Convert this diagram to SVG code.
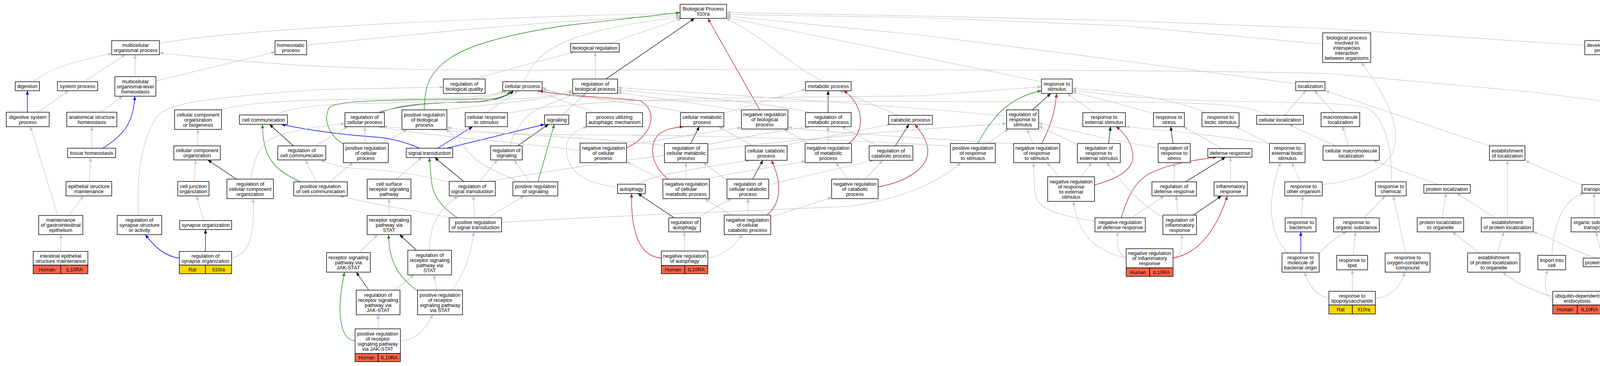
<svg xmlns="http://www.w3.org/2000/svg" width="4843" height="936" viewBox="0 0 4843 936">
<defs>
<style>
.c path{fill:none;stroke-width:1.2}
.c .g{stroke:#c0c0c0;marker-end:url(#mg)}
.c .k{stroke:#000;marker-end:url(#mk)}
.c .gr{stroke:#228b22;stroke-width:1.4;marker-end:url(#mgr)}
.c .r{stroke:#b22222;stroke-width:1.4;marker-end:url(#mr)}
.c .b{stroke:#0000ff;stroke-width:1.4;marker-end:url(#mb)}
.n rect{fill:#fff;stroke:#000;stroke-width:1.4}
.n rect.hu{fill:#ff6347}
.n rect.rt{fill:#ffd700}
.n rect.zf{fill:#6495ed}
.n text{font-family:"Liberation Sans",Arial,Helvetica,sans-serif;font-size:13px;text-anchor:middle;fill:#000}
</style>
<marker id="mg" viewBox="0 0 10 8" refX="10" refY="4" markerWidth="10" markerHeight="8" markerUnits="userSpaceOnUse" orient="auto"><path d="M0,0L10,4L0,8z" fill="#c0c0c0"/></marker>
<marker id="mk" viewBox="0 0 10 8" refX="10" refY="4" markerWidth="10" markerHeight="8" markerUnits="userSpaceOnUse" orient="auto"><path d="M0,0L10,4L0,8z" fill="#000"/></marker>
<marker id="mgr" viewBox="0 0 10 8" refX="10" refY="4" markerWidth="10" markerHeight="8" markerUnits="userSpaceOnUse" orient="auto"><path d="M0,0L10,4L0,8z" fill="#228b22"/></marker>
<marker id="mr" viewBox="0 0 10 8" refX="10" refY="4" markerWidth="10" markerHeight="8" markerUnits="userSpaceOnUse" orient="auto"><path d="M0,0L10,4L0,8z" fill="#b22222"/></marker>
<marker id="mb" viewBox="0 0 10 8" refX="10" refY="4" markerWidth="10" markerHeight="8" markerUnits="userSpaceOnUse" orient="auto"><path d="M0,0L10,4L0,8z" fill="#0000ff"/></marker>
</defs>
<rect width="4843" height="936" fill="#fff"/>
<g id="connectors" class="c">
<path class="g" d="M408,111 C600,75 1200,45 1741,34"/>
<path class="g" d="M785,115 C1000,95 1400,50 1741,40"/>
<path class="g" d="M87,209 C110,185 170,160 286,137"/>
<path class="g" d="M216,209 L320,140"/>
<path class="g" d="M346,196 L346,140"/>
<path class="g" d="M399,207 L704,133"/>
<path class="b" d="M70,287 L70,232"/>
<path class="g" d="M98,287 L176,232"/>
<path class="g" d="M258,287 L314,246"/>
<path class="g" d="M235,379 L235,324"/>
<path class="b" d="M263,379 C310,350 342,320 345,246"/>
<path class="g" d="M229,464 L232,403"/>
<path class="g" d="M176,551 L214,501"/>
<path class="g" d="M148,551 L78,324"/>
<path class="g" d="M156,643 L156,600"/>
<path class="g" d="M4379,294 L3920,235 L3400,188 C3000,178 2000,176 1300,180 C900,178 700,168 408,135"/>
<path class="g" d="M4057,116 L3400,73 L2880,53 L2360,41 L1860,32"/>
<path class="g" d="M4505,206 L4152,135"/>
<path class="g" d="M3386,113 L2880,66 L2360,45 L1860,37"/>
<path class="g" d="M3317,214 L2880,156 L2360,90 L1860,41"/>
<path class="g" d="M2666,209 L2360,146 L1860,45"/>
<path class="g" d="M2107,209 C2000,150 1950,90 1858,47"/>
<path class="g" d="M1341,209 C1370,140 1420,80 1741,44"/>
<path class="g" d="M1560,111 L1745,47"/>
<path class="g" d="M1524,202 L1524,133"/>
<path class="k" d="M1551,202 L1778,47"/>
<path class="g" d="M1210,202 L1470,133"/>
<path class="r" d="M1945,281 L1812,47"/>
<path class="g" d="M1898,284 C1800,265 1650,248 1581,236"/>
<path class="gr" d="M1086,281 C1086,220 1100,185 1150,150 C1200,115 1300,88 1450,65 L1741,32"/>
<path class="g" d="M1140,281 C1250,266 1400,256 1466,236"/>
<path class="k" d="M970,288 C1020,270 1080,262 1213,261 C1270,258 1300,245 1315,232"/>
<path class="g" d="M960,288 C1040,266 1200,258 1300,254 C1400,250 1445,240 1466,230"/>
<path class="g" d="M1245,288 L1327,232"/>
<path class="g" d="M1299,290 C1400,268 1600,255 1900,250 L2360,245 L2666,222"/>
<path class="g" d="M1438,295 L1500,239"/>
<path class="g" d="M1523,288 L1372,232"/>
<path class="b" d="M1144,379 L1394,318"/>
<path class="b" d="M1120,379 L1210,324"/>
<path class="b" d="M1074,379 C1030,360 990,352 955,350 C880,345 800,335 720,318"/>
<path class="k" d="M1325,373 L1404,318"/>
<path class="g" d="M1306,373 C1312,340 1340,300 1370,283 C1410,262 1450,250 1475,239"/>
<path class="gr" d="M1377,465 L1419,318"/>
<path class="g" d="M1355,465 L1316,409"/>
<path class="g" d="M1332,465 C1280,445 1230,420 1215,405 C1190,380 1170,350 1140,331"/>
<path class="k" d="M1187,464 L1113,403"/>
<path class="g" d="M1228,464 L1273,409"/>
<path class="g" d="M1151,466 C1050,440 950,432 900,430 C860,425 840,418 821,409"/>
<path class="g" d="M1250,464 C1500,420 2000,350 2577,316"/>
<path class="gr" d="M1171,557 C1130,530 1108,500 1105,466 L1099,403"/>
<path class="g" d="M1215,557 L1212,501"/>
<path class="g" d="M1248,557 L1342,501"/>
<path class="g" d="M1150,557 C1070,538 1000,533 870,501"/>
<path class="g" d="M1284,569 C1500,555 2000,535 2173,528 C2300,510 2400,470 2460,416"/>
<path class="g" d="M1015,458 L1080,403"/>
<path class="g" d="M996,551 L996,508"/>
<path class="k" d="M1066,640 L1023,600"/>
<path class="g" d="M1100,640 C1100,590 1110,545 1172,502"/>
<path class="g" d="M919,646 L967,600"/>
<path class="k" d="M944,742 L912,696"/>
<path class="g" d="M1009,742 L1060,703"/>
<path class="g" d="M1118,742 L1111,703"/>
<path class="gr" d="M1069,744 C1030,715 995,680 995,600"/>
<path class="g" d="M1157,742 C1180,710 1200,680 1213,593"/>
<path class="g" d="M968,841 L968,805"/>
<path class="g" d="M1025,872 C1070,868 1090,840 1108,805"/>
<path class="gr" d="M909,872 C870,868 860,800 882,696"/>
<path class="g" d="M700,294 C740,278 800,268 900,265 C1100,262 1250,258 1298,232"/>
<path class="k" d="M751,373 L690,318"/>
<path class="g" d="M808,373 L890,324"/>
<path class="gr" d="M770,465 C700,435 672,400 672,318"/>
<path class="g" d="M810,465 L782,409"/>
<path class="g" d="M844,465 L903,416"/>
<path class="g" d="M567,281 C620,265 700,255 1000,253 C1200,251 1270,245 1291,232"/>
<path class="g" d="M506,373 L507,331"/>
<path class="g" d="M497,464 L501,409"/>
<path class="g" d="M522,564 L503,501"/>
<path class="k" d="M526,643 L526,587"/>
<path class="b" d="M459,660 C420,655 395,630 372,600"/>
<path class="g" d="M593,660 C640,650 652,600 648,508"/>
<path class="g" d="M354,551 C350,450 360,366 400,300 C430,265 500,253 810,229 L1135,223"/>
<path class="k" d="M605,458 L532,409"/>
<path class="g" d="M643,458 C648,410 665,370 700,352 C740,335 800,325 883,316"/>
<path class="g" d="M934,366 L934,324"/>
<path class="g" d="M981,366 L1043,331"/>
<path class="gr" d="M878,368 C840,345 825,300 845,273 C870,258 960,255 1255,253 C1285,250 1300,242 1306,232"/>
<path class="r" d="M1604,379 C1680,340 1680,280 1640,258 C1600,250 1450,248 1380,232"/>
<path class="g" d="M1485,385 C1300,360 1100,350 968,324"/>
<path class="g" d="M1604,372 C1700,355 1800,340 1898,326"/>
<path class="g" d="M1853,290 L2062,228"/>
<path class="g" d="M1757,288 C1650,265 1500,255 1388,228"/>
<path class="k" d="M1768,367 L1790,324"/>
<path class="g" d="M1812,370 C1900,350 2000,335 2073,324"/>
<path class="g" d="M1701,372 C1550,352 1200,340 980,324"/>
<path class="g" d="M1756,458 L1756,416"/>
<path class="r" d="M1710,458 C1665,420 1660,370 1687,343 C1705,330 1725,326 1750,324"/>
<path class="g" d="M1697,460 L1604,414"/>
<path class="g" d="M1808,458 C1880,440 2000,425 2061,412"/>
<path class="k" d="M1726,557 L1633,495"/>
<path class="g" d="M1787,557 C1820,535 1850,520 1873,508"/>
<path class="g" d="M1752,642 L1752,593"/>
<path class="r" d="M1693,660 C1630,655 1615,580 1617,495"/>
<path class="g" d="M1812,660 C1850,655 1880,630 1900,600"/>
<path class="g" d="M1581,479 C1500,470 1450,440 1450,380 C1450,345 1480,330 1503,324"/>
<path class="g" d="M1630,471 C1680,445 1800,428 1920,410"/>
<path class="g" d="M2000,373 L2280,318"/>
<path class="g" d="M1927,373 L1840,324"/>
<path class="k" d="M1927,458 L1953,410"/>
<path class="g" d="M1861,461 C1840,445 1820,430 1800,416"/>
<path class="g" d="M1968,472 L2237,410"/>
<path class="g" d="M1915,550 L1915,508"/>
<path class="r" d="M1963,550 C2000,520 2003,470 1975,410"/>
<path class="g" d="M1973,555 L2129,505"/>
<path class="g" d="M1873,550 C1850,535 1820,520 1805,508"/>
<path class="k" d="M2120,288 L2120,232"/>
<path class="g" d="M2080,288 C1950,262 1800,250 1581,230"/>
<path class="g" d="M2120,367 L2120,324"/>
<path class="r" d="M2172,367 C2215,340 2215,270 2160,232"/>
<path class="g" d="M2070,367 L2007,330"/>
<path class="k" d="M2292,373 L2327,318"/>
<path class="g" d="M2245,373 L2155,324"/>
<path class="g" d="M2215,458 L2260,410"/>
<path class="g" d="M2170,458 L2140,416"/>
<path class="r" d="M2248,478 C2320,465 2380,430 2375,380 C2370,350 2355,335 2342,318"/>
<path class="g" d="M2300,295 L2150,232"/>
<path class="k" d="M2643,281 L2690,239"/>
<path class="g" d="M2577,297 C2300,270 1900,245 1581,224"/>
<path class="gr" d="M2503,367 C2540,300 2580,250 2666,232"/>
<path class="g" d="M2528,367 L2582,330"/>
<path class="g" d="M2433,374 C2100,352 1700,345 1500,345 C1300,345 1200,335 1144,326"/>
<path class="r" d="M2667,367 C2690,320 2700,290 2705,239"/>
<path class="g" d="M2644,367 L2629,330"/>
<path class="g" d="M2595,368 C2400,355 2200,345 2017,326"/>
<path class="k" d="M2838,367 L2843,324"/>
<path class="g" d="M2758,370 L2659,322"/>
<path class="g" d="M2800,288 L2732,239"/>
<path class="g" d="M2712,452 L2680,416"/>
<path class="g" d="M2767,452 L2795,416"/>
<path class="r" d="M2802,473 C2850,460 2900,440 2900,400 C2900,370 2880,340 2857,324"/>
<path class="g" d="M2897,557 L2980,501"/>
<path class="r" d="M2870,557 C2885,510 2900,470 2940,445 C2990,420 3050,410 3115,402"/>
<path class="g" d="M2803,566 C2680,545 2650,530 2648,480 L2646,416"/>
<path class="g" d="M3003,660 C3025,655 3028,630 3025,600"/>
<path class="r" d="M3003,660 C3060,650 3110,600 3142,501"/>
<path class="g" d="M2883,660 C2800,640 2760,600 2748,515"/>
<path class="g" d="M2883,660 C2860,650 2858,620 2862,593"/>
<path class="g" d="M3015,550 L3011,501"/>
<path class="k" d="M3055,550 L3127,501"/>
<path class="g" d="M2977,555 C2930,530 2880,480 2833,416"/>
<path class="g" d="M3006,465 L3006,416"/>
<path class="k" d="M3035,465 L3137,402"/>
<path class="k" d="M3003,367 L2997,324"/>
<path class="g" d="M2965,378 C2850,360 2750,335 2659,315"/>
<path class="g" d="M3128,380 L3030,324"/>
<path class="g" d="M3150,465 L3150,402"/>
<path class="g" d="M3250,367 C3100,345 2950,330 2881,324"/>
<path class="g" d="M3250,367 L3163,324"/>
<path class="g" d="M2953,291 C2880,268 2800,250 2745,234"/>
<path class="g" d="M3087,288 C3000,250 2850,232 2745,226"/>
<path class="g" d="M3247,295 C3200,268 3100,262 2880,261 L1700,258 C1500,256 1420,245 1388,222"/>
<path class="g" d="M3288,295 L3343,232"/>
<path class="g" d="M3415,288 L3365,232"/>
<path class="g" d="M3453,373 L3437,324"/>
<path class="g" d="M3420,373 C3380,355 3330,335 3300,318"/>
<path class="g" d="M3813,373 L3393,232"/>
<path class="g" d="M3385,472 C3500,460 3570,420 3573,358 C3575,290 3530,220 3485,160"/>
<path class="g" d="M3329,465 L3307,416"/>
<path class="g" d="M3332,557 L3335,501"/>
<path class="b" d="M3330,647 L3330,593"/>
<path class="g" d="M3377,647 C3400,625 3420,605 3447,593"/>
<path class="g" d="M3297,647 C3250,600 3240,520 3278,416"/>
<path class="g" d="M3402,763 C3370,755 3350,730 3340,696"/>
<path class="g" d="M3462,745 L3462,690"/>
<path class="g" d="M3521,763 C3560,760 3590,730 3595,696"/>
<path class="g" d="M3464,653 L3470,593"/>
<path class="g" d="M3598,647 L3567,501"/>
<path class="g" d="M3492,557 L3546,501"/>
<path class="g" d="M3562,465 C3565,380 3545,300 3500,276 C3450,262 3300,262 3100,258 C2900,252 2800,238 2745,230"/>
<path class="g" d="M3682,472 L3515,410"/>
<path class="g" d="M3692,557 L3702,494"/>
<path class="g" d="M3827,557 L3729,494"/>
<path class="g" d="M3859,557 L3859,410"/>
<path class="g" d="M3788,647 L3718,593"/>
<path class="g" d="M3833,647 L3850,593"/>
<path class="g" d="M3975,758 C3940,750 3880,725 3847,696"/>
<path class="g" d="M3975,766 C3955,762 3952,720 3962,690"/>
<path class="g" d="M4100,766 C4122,762 4125,720 4112,682"/>
<path class="g" d="M4100,763 C4180,760 4250,740 4303,682"/>
<path class="g" d="M4102,660 L4086,593"/>
<path class="g" d="M4122,660 L4217,593"/>
<path class="g" d="M4087,660 C4020,640 3980,610 3925,593"/>
<path class="g" d="M4333,660 L4388,593"/>
<path class="g" d="M3973,653 C3975,580 4000,510 4055,494"/>
<path class="g" d="M4081,557 L4081,494"/>
<path class="g" d="M4211,557 L4104,494"/>
<path class="g" d="M4362,557 L4112,492"/>
<path class="g" d="M4050,474 L3905,411"/>
<path class="g" d="M4477,288 L4544,239"/>
<path class="b" d="M4507,380 L4463,324"/>
<path class="g" d="M4523,380 C4550,350 4565,300 4566,239"/>
<path class="g" d="M4516,465 L4516,402"/>
<path class="g" d="M4669,472 L4578,239"/>
<path class="g" d="M4558,557 L4526,501"/>
<path class="g" d="M4781,557 C4770,450 4700,330 4596,239"/>
<path class="b" d="M4634,653 L4584,593"/>
<path class="g" d="M4651,653 L4671,494"/>
<path class="g" d="M4782,653 L4782,593"/>
<path class="b" d="M4640,763 C4620,762 4618,720 4637,690"/>
<path class="g" d="M4791,763 C4815,760 4810,720 4795,690"/>
</g>
<g id="n1" class="n"><rect x="286" y="104" width="122" height="36"/><text><tspan x="347" y="120">multicellular</tspan><tspan x="347" y="133">organismal process</tspan></text></g>
<g id="n2" class="n"><rect x="704" y="104" width="81" height="36"/><text><tspan x="744.5" y="120">homeostatic</tspan><tspan x="744.5" y="133">process</tspan></text></g>
<g id="n3" class="n"><rect x="39" y="209" width="62" height="23"/><text><tspan x="70" y="225">digestion</tspan></text></g>
<g id="n4" class="n"><rect x="147" y="209" width="103" height="23"/><text><tspan x="198.5" y="225">system process</tspan></text></g>
<g id="n5" class="n"><rect x="294" y="196" width="105" height="50"/><text><tspan x="346.5" y="212.5">multicellular</tspan><tspan x="346.5" y="225.5">organismal-level</tspan><tspan x="346.5" y="238.5">homeostasis</tspan></text></g>
<g id="n6" class="n"><rect x="16" y="287" width="110" height="37"/><text><tspan x="71" y="303.5">digestive system</tspan><tspan x="71" y="316.5">process</tspan></text></g>
<g id="n7" class="n"><rect x="171" y="287" width="128" height="37"/><text><tspan x="235" y="303.5">anatomical structure</tspan><tspan x="235" y="316.5">homeostasis</tspan></text></g>
<g id="n8" class="n"><rect x="447" y="281" width="120" height="50"/><text><tspan x="507" y="297.5">cellular component</tspan><tspan x="507" y="310.5">organization</tspan><tspan x="507" y="323.5">or biogenesis</tspan></text></g>
<g id="n9" class="n"><rect x="613" y="294" width="123" height="24"/><text><tspan x="674.5" y="310.5">cell communication</tspan></text></g>
<g id="n10" class="n"><rect x="173" y="379" width="123" height="24"/><text><tspan x="234.5" y="395.5">tissue homeostasis</tspan></text></g>
<g id="n11" class="n"><rect x="445" y="373" width="119" height="36"/><text><tspan x="504.5" y="389">cellular component</tspan><tspan x="504.5" y="402">organization</tspan></text></g>
<g id="n12" class="n"><rect x="711" y="373" width="123" height="36"/><text><tspan x="772.5" y="389">regulation of</tspan><tspan x="772.5" y="402">cell communication</tspan></text></g>
<g id="n13" class="n"><rect x="169" y="464" width="117" height="37"/><text><tspan x="227.5" y="480.5">epithelial structure</tspan><tspan x="227.5" y="493.5">maintenance</tspan></text></g>
<g id="n14" class="n"><rect x="455" y="464" width="80" height="37"/><text><tspan x="495" y="480.5">cell junction</tspan><tspan x="495" y="493.5">organization</tspan></text></g>
<g id="n15" class="n"><rect x="581" y="458" width="119" height="50"/><text><tspan x="640.5" y="474.5">regulation of</tspan><tspan x="640.5" y="487.5">cellular component</tspan><tspan x="640.5" y="500.5">organization</tspan></text></g>
<g id="n16" class="n"><rect x="752" y="465" width="137" height="36"/><text><tspan x="820.5" y="481">positive regulation</tspan><tspan x="820.5" y="494">of cell communication</tspan></text></g>
<g id="n17" class="n"><rect x="99" y="551" width="113" height="49"/><text><tspan x="155.5" y="567">maintenance</tspan><tspan x="155.5" y="580">of gastrointestinal</tspan><tspan x="155.5" y="593">epithelium</tspan></text></g>
<g id="n18" class="n"><rect x="300" y="551" width="114" height="49"/><text><tspan x="357" y="567">regulation of</tspan><tspan x="357" y="580">synapse structure</tspan><tspan x="357" y="593">or activity</tspan></text></g>
<g id="n19" class="n"><rect x="460" y="564" width="133" height="23"/><text><tspan x="526.5" y="580">synapse organization</tspan></text></g>
<g id="n20" class="n"><rect x="85" y="643" width="140" height="35"/><rect class="hu" x="85" y="678" width="70.5" height="22"/><rect class="hu" x="155.5" y="678" width="69.5" height="22"/><text><tspan x="155" y="658.5">intestinal epithelial</tspan><tspan x="155" y="671.5">structure maintenance</tspan><tspan x="120.3" y="693.5">Human</tspan><tspan x="190.3" y="693.5">IL10RA</tspan></text></g>
<g id="n21" class="n"><rect x="459" y="643" width="134" height="35"/><rect class="rt" x="459" y="678" width="67" height="22"/><rect class="rt" x="526" y="678" width="67" height="22"/><text><tspan x="526" y="658.5">regulation of</tspan><tspan x="526" y="671.5">synapse organization</tspan><tspan x="492.5" y="693.5">Rat</tspan><tspan x="559.5" y="693.5">Il10ra</tspan></text></g>
<g id="n22" class="n"><rect x="1135" y="202" width="107" height="37"/><text><tspan x="1188.5" y="218.5">regulation of</tspan><tspan x="1188.5" y="231.5">biological quality</tspan></text></g>
<g id="n23" class="n"><rect x="1287" y="209" width="101" height="23"/><text><tspan x="1337.5" y="225">cellular process</tspan></text></g>
<g id="n24" class="n"><rect x="1461" y="111" width="124" height="22"/><text><tspan x="1523" y="126.5">biological regulation</tspan></text></g>
<g id="n25" class="n"><rect x="1466" y="202" width="115" height="37"/><text><tspan x="1523.5" y="218.5">regulation of</tspan><tspan x="1523.5" y="231.5">biological process</tspan></text></g>
<g id="n26" class="n"><rect x="883" y="288" width="101" height="36"/><text><tspan x="933.5" y="304">regulation of</tspan><tspan x="933.5" y="317">cellular process</tspan></text></g>
<g id="n27" class="n"><rect x="1029" y="281" width="115" height="50"/><text><tspan x="1086.5" y="297.5">positive regulation</tspan><tspan x="1086.5" y="310.5">of biological</tspan><tspan x="1086.5" y="323.5">process</tspan></text></g>
<g id="n28" class="n"><rect x="1191" y="288" width="108" height="36"/><text><tspan x="1245" y="304">cellular response</tspan><tspan x="1245" y="317">to stimulus</tspan></text></g>
<g id="n29" class="n"><rect x="1394" y="294" width="62" height="24"/><text><tspan x="1425" y="310.5">signaling</tspan></text></g>
<g id="n30" class="n"><rect x="1501" y="288" width="144" height="36"/><text><tspan x="1573" y="304">process utilizing</tspan><tspan x="1573" y="317">autophagic mechanism</tspan></text></g>
<g id="n31" class="n"><rect x="879" y="366" width="115" height="50"/><text><tspan x="936.5" y="382.5">positive regulation</tspan><tspan x="936.5" y="395.5">of cellular</tspan><tspan x="936.5" y="408.5">process</tspan></text></g>
<g id="n32" class="n"><rect x="1040" y="379" width="119" height="24"/><text><tspan x="1099.5" y="395.5">signal transduction</tspan></text></g>
<g id="n33" class="n"><rect x="1256" y="373" width="81" height="36"/><text><tspan x="1296.5" y="389">regulation of</tspan><tspan x="1296.5" y="402">signaling</tspan></text></g>
<g id="n34" class="n"><rect x="1485" y="366" width="119" height="50"/><text><tspan x="1544.5" y="382.5">negative regulation</tspan><tspan x="1544.5" y="395.5">of cellular</tspan><tspan x="1544.5" y="408.5">process</tspan></text></g>
<g id="n35" class="n"><rect x="1313" y="465" width="115" height="36"/><text><tspan x="1370.5" y="481">positive regulation</tspan><tspan x="1370.5" y="494">of signaling</tspan></text></g>
<g id="n36" class="n"><rect x="940" y="458" width="112" height="50"/><text><tspan x="996" y="474.5">cell surface</tspan><tspan x="996" y="487.5">receptor signaling</tspan><tspan x="996" y="500.5">pathway</tspan></text></g>
<g id="n37" class="n"><rect x="1150" y="464" width="118" height="37"/><text><tspan x="1209" y="480.5">regulation of</tspan><tspan x="1209" y="493.5">signal transduction</tspan></text></g>
<g id="n38" class="n"><rect x="1581" y="471" width="71" height="24"/><text><tspan x="1616.5" y="487.5">autophagy</tspan></text></g>
<g id="n39" class="n"><rect x="940" y="551" width="112" height="49"/><text><tspan x="996" y="567">receptor signaling</tspan><tspan x="996" y="580">pathway via</tspan><tspan x="996" y="593">STAT</tspan></text></g>
<g id="n40" class="n"><rect x="1150" y="557" width="134" height="36"/><text><tspan x="1217" y="573">positive regulation</tspan><tspan x="1217" y="586">of signal transduction</tspan></text></g>
<g id="n41" class="n"><rect x="836" y="646" width="112" height="50"/><text><tspan x="892" y="662.5">receptor signaling</tspan><tspan x="892" y="675.5">pathway via</tspan><tspan x="892" y="688.5">JAK-STAT</tspan></text></g>
<g id="n42" class="n"><rect x="1044" y="640" width="112" height="63"/><text><tspan x="1100" y="656.5">regulation of</tspan><tspan x="1100" y="669.5">receptor signaling</tspan><tspan x="1100" y="682.5">pathway via</tspan><tspan x="1100" y="695.5">STAT</tspan></text></g>
<g id="n43" class="n"><rect x="912" y="742" width="112" height="63"/><text><tspan x="968" y="758.5">regulation of</tspan><tspan x="968" y="771.5">receptor signaling</tspan><tspan x="968" y="784.5">pathway via</tspan><tspan x="968" y="797.5">JAK-STAT</tspan></text></g>
<g id="n44" class="n"><rect x="1069" y="742" width="115" height="63"/><text><tspan x="1126.5" y="758.5">positive regulation</tspan><tspan x="1126.5" y="771.5">of receptor</tspan><tspan x="1126.5" y="784.5">signaling pathway</tspan><tspan x="1126.5" y="797.5">via STAT</tspan></text></g>
<g id="n45" class="n"><rect x="909" y="841" width="116" height="63"/><rect class="hu" x="909" y="904" width="59" height="21"/><rect class="hu" x="968" y="904" width="57" height="21"/><text><tspan x="967" y="857.5">positive regulation</tspan><tspan x="967" y="870.5">of receptor</tspan><tspan x="967" y="883.5">signaling pathway</tspan><tspan x="967" y="896.5">via JAK-STAT</tspan><tspan x="938.5" y="919">Human</tspan><tspan x="996.5" y="919">IL10RA</tspan></text></g>
<g id="n46" class="n"><rect x="1741" y="11" width="119" height="36"/><text><tspan x="1800.5" y="27">Biological Process</tspan><tspan x="1800.5" y="40">Il10ra</tspan></text></g>
<g id="n47" class="n"><rect x="1742" y="288" width="111" height="36"/><text><tspan x="1797.5" y="304">cellular metabolic</tspan><tspan x="1797.5" y="317">process</tspan></text></g>
<g id="n48" class="n"><rect x="1701" y="367" width="111" height="49"/><text><tspan x="1756.5" y="383">regulation of</tspan><tspan x="1756.5" y="396">cellular metabolic</tspan><tspan x="1756.5" y="409">process</tspan></text></g>
<g id="n49" class="n"><rect x="1697" y="458" width="119" height="50"/><text><tspan x="1756.5" y="474.5">negative regulation</tspan><tspan x="1756.5" y="487.5">of cellular</tspan><tspan x="1756.5" y="500.5">metabolic process</tspan></text></g>
<g id="n50" class="n"><rect x="1712" y="557" width="81" height="36"/><text><tspan x="1752.5" y="573">regulation of</tspan><tspan x="1752.5" y="586">autophagy</tspan></text></g>
<g id="n51" class="n"><rect x="1693" y="642" width="119" height="37"/><rect class="hu" x="1693" y="679" width="60" height="21"/><rect class="hu" x="1753" y="679" width="59" height="21"/><text><tspan x="1752.5" y="658.5">negative regulation</tspan><tspan x="1752.5" y="671.5">of autophagy</tspan><tspan x="1723" y="694">Human</tspan><tspan x="1782.5" y="694">IL10RA</tspan></text></g>
<g id="n52" class="n"><rect x="2062" y="209" width="117" height="23"/><text><tspan x="2120.5" y="225">metabolic process</tspan></text></g>
<g id="n53" class="n"><rect x="1898" y="281" width="119" height="49"/><text><tspan x="1957.5" y="297">negative regulation</tspan><tspan x="1957.5" y="310">of biological</tspan><tspan x="1957.5" y="323">process</tspan></text></g>
<g id="n54" class="n"><rect x="2062" y="288" width="117" height="36"/><text><tspan x="2120.5" y="304">regulation of</tspan><tspan x="2120.5" y="317">metabolic process</tspan></text></g>
<g id="n55" class="n"><rect x="2275" y="295" width="112" height="23"/><text><tspan x="2331" y="311">catabolic process</tspan></text></g>
<g id="n56" class="n"><rect x="1908" y="373" width="107" height="37"/><text><tspan x="1961.5" y="389.5">cellular catabolic</tspan><tspan x="1961.5" y="402.5">process</tspan></text></g>
<g id="n57" class="n"><rect x="2061" y="367" width="119" height="49"/><text><tspan x="2120.5" y="383">negative regulation</tspan><tspan x="2120.5" y="396">of metabolic</tspan><tspan x="2120.5" y="409">process</tspan></text></g>
<g id="n58" class="n"><rect x="2225" y="373" width="112" height="37"/><text><tspan x="2281" y="389.5">regulation of</tspan><tspan x="2281" y="402.5">catabolic process</tspan></text></g>
<g id="n59" class="n"><rect x="1861" y="458" width="107" height="50"/><text><tspan x="1914.5" y="474.5">regulation of</tspan><tspan x="1914.5" y="487.5">cellular catabolic</tspan><tspan x="1914.5" y="500.5">process</tspan></text></g>
<g id="n60" class="n"><rect x="2129" y="458" width="119" height="50"/><text><tspan x="2188.5" y="474.5">negative regulation</tspan><tspan x="2188.5" y="487.5">of catabolic</tspan><tspan x="2188.5" y="500.5">process</tspan></text></g>
<g id="n61" class="n"><rect x="1854" y="550" width="119" height="50"/><text><tspan x="1913.5" y="566.5">negative regulation</tspan><tspan x="1913.5" y="579.5">of cellular</tspan><tspan x="1913.5" y="592.5">catabolic process</tspan></text></g>
<g id="n62" class="n"><rect x="2666" y="202" width="79" height="37"/><text><tspan x="2705.5" y="218.5">response to</tspan><tspan x="2705.5" y="231.5">stimulus</tspan></text></g>
<g id="n63" class="n"><rect x="2577" y="281" width="82" height="49"/><text><tspan x="2618" y="297">regulation of</tspan><tspan x="2618" y="310">response to</tspan><tspan x="2618" y="323">stimulus</tspan></text></g>
<g id="n64" class="n"><rect x="2772" y="288" width="109" height="36"/><text><tspan x="2826.5" y="304">response to</tspan><tspan x="2826.5" y="317">external stimulus</tspan></text></g>
<g id="n65" class="n"><rect x="2433" y="367" width="115" height="49"/><text><tspan x="2490.5" y="383">positive regulation</tspan><tspan x="2490.5" y="396">of response</tspan><tspan x="2490.5" y="409">to stimulus</tspan></text></g>
<g id="n66" class="n"><rect x="2595" y="367" width="118" height="49"/><text><tspan x="2654" y="383">negative regulation</tspan><tspan x="2654" y="396">of response</tspan><tspan x="2654" y="409">to stimulus</tspan></text></g>
<g id="n67" class="n"><rect x="2758" y="367" width="110" height="49"/><text><tspan x="2813" y="383">regulation of</tspan><tspan x="2813" y="396">response to</tspan><tspan x="2813" y="409">external stimulus</tspan></text></g>
<g id="n68" class="n"><rect x="2682" y="452" width="120" height="63"/><text><tspan x="2742" y="468.5">negative regulation</tspan><tspan x="2742" y="481.5">of response</tspan><tspan x="2742" y="494.5">to external</tspan><tspan x="2742" y="507.5">stimulus</tspan></text></g>
<g id="n69" class="n"><rect x="2803" y="557" width="129" height="36"/><text><tspan x="2867.5" y="573">negative regulation</tspan><tspan x="2867.5" y="586">of defense response</tspan></text></g>
<g id="n70" class="n"><rect x="2953" y="288" width="79" height="36"/><text><tspan x="2992.5" y="304">response to</tspan><tspan x="2992.5" y="317">stress</tspan></text></g>
<g id="n71" class="n"><rect x="3077" y="288" width="95" height="36"/><text><tspan x="3124.5" y="304">response to</tspan><tspan x="3124.5" y="317">biotic stimulus</tspan></text></g>
<g id="n72" class="n"><rect x="3217" y="295" width="120" height="23"/><text><tspan x="3277" y="311">cellular localization</tspan></text></g>
<g id="n73" class="n"><rect x="3317" y="209" width="75" height="23"/><text><tspan x="3354.5" y="225">localization</tspan></text></g>
<g id="n74" class="n"><rect x="3386" y="84" width="123" height="76"/><text><tspan x="3447.5" y="100.5">biological process</tspan><tspan x="3447.5" y="113.5">involved in</tspan><tspan x="3447.5" y="126.5">interspecies</tspan><tspan x="3447.5" y="139.5">interaction</tspan><tspan x="3447.5" y="152.5">between organisms</tspan></text></g>
<g id="n75" class="n"><rect x="2965" y="367" width="82" height="49"/><text><tspan x="3006" y="383">regulation of</tspan><tspan x="3006" y="396">response to</tspan><tspan x="3006" y="409">stress</tspan></text></g>
<g id="n76" class="n"><rect x="3092" y="380" width="113" height="22"/><text><tspan x="3148.5" y="395.5">defense response</tspan></text></g>
<g id="n77" class="n"><rect x="3250" y="367" width="91" height="49"/><text><tspan x="3295.5" y="383">response to</tspan><tspan x="3295.5" y="396">external biotic</tspan><tspan x="3295.5" y="409">stimulus</tspan></text></g>
<g id="n78" class="n"><rect x="3382" y="288" width="99" height="36"/><text><tspan x="3431.5" y="304">macromolecule</tspan><tspan x="3431.5" y="317">localization</tspan></text></g>
<g id="n79" class="n"><rect x="3387" y="373" width="144" height="37"/><text><tspan x="3459" y="389.5">cellular macromolecule</tspan><tspan x="3459" y="402.5">localization</tspan></text></g>
<g id="n80" class="n"><rect x="2949" y="465" width="114" height="36"/><text><tspan x="3006" y="481">regulation of</tspan><tspan x="3006" y="494">defense response</tspan></text></g>
<g id="n81" class="n"><rect x="3108" y="465" width="85" height="36"/><text><tspan x="3150.5" y="481">inflammatory</tspan><tspan x="3150.5" y="494">response</tspan></text></g>
<g id="n82" class="n"><rect x="3289" y="465" width="96" height="36"/><text><tspan x="3337" y="481">response to</tspan><tspan x="3337" y="494">other organism</tspan></text></g>
<g id="n83" class="n"><rect x="2977" y="550" width="86" height="50"/><text><tspan x="3020" y="566.5">regulation of</tspan><tspan x="3020" y="579.5">inflammatory</tspan><tspan x="3020" y="592.5">response</tspan></text></g>
<g id="n84" class="n"><rect x="3290" y="557" width="79" height="36"/><text><tspan x="3329.5" y="573">response to</tspan><tspan x="3329.5" y="586">bacterium</tspan></text></g>
<g id="n85" class="n"><rect x="2883" y="636" width="120" height="49"/><rect class="hu" x="2883" y="685" width="60" height="22"/><rect class="hu" x="2943" y="685" width="60" height="22"/><text><tspan x="2943" y="652">negative regulation</tspan><tspan x="2943" y="665">of inflammatory</tspan><tspan x="2943" y="678">response</tspan><tspan x="2913" y="700.5">Human</tspan><tspan x="2973" y="700.5">IL10RA</tspan></text></g>
<g id="n86" class="n"><rect x="3282" y="647" width="95" height="49"/><text><tspan x="3329.5" y="663">response to</tspan><tspan x="3329.5" y="676">molecule of</tspan><tspan x="3329.5" y="689">bacterial origin</tspan></text></g>
<g id="n87" class="n"><rect x="3813" y="373" width="91" height="37"/><text><tspan x="3858.5" y="389.5">establishment</tspan><tspan x="3858.5" y="402.5">of localization</tspan></text></g>
<g id="n88" class="n"><rect x="3521" y="465" width="79" height="36"/><text><tspan x="3560.5" y="481">response to</tspan><tspan x="3560.5" y="494">chemical</tspan></text></g>
<g id="n89" class="n"><rect x="3645" y="472" width="119" height="22"/><text><tspan x="3704.5" y="487.5">protein localization</tspan></text></g>
<g id="n90" class="n"><rect x="3414" y="557" width="117" height="36"/><text><tspan x="3472.5" y="573">response to</tspan><tspan x="3472.5" y="586">organic substance</tspan></text></g>
<g id="n91" class="n"><rect x="3628" y="557" width="119" height="36"/><text><tspan x="3687.5" y="573">protein localization</tspan><tspan x="3687.5" y="586">to organelle</tspan></text></g>
<g id="n92" class="n"><rect x="3792" y="557" width="133" height="36"/><text><tspan x="3858.5" y="573">establishment</tspan><tspan x="3858.5" y="586">of protein localization</tspan></text></g>
<g id="n93" class="n"><rect x="3422" y="653" width="79" height="37"/><text><tspan x="3461.5" y="669.5">response to</tspan><tspan x="3461.5" y="682.5">lipid</tspan></text></g>
<g id="n94" class="n"><rect x="3546" y="647" width="115" height="49"/><text><tspan x="3603.5" y="663">response to</tspan><tspan x="3603.5" y="676">oxygen-containing</tspan><tspan x="3603.5" y="689">compound</tspan></text></g>
<g id="n95" class="n"><rect x="3757" y="647" width="134" height="49"/><text><tspan x="3824" y="663">establishment</tspan><tspan x="3824" y="676">of protein localization</tspan><tspan x="3824" y="689">to organelle</tspan></text></g>
<g id="n96" class="n"><rect x="3402" y="745" width="119" height="35"/><rect class="rt" x="3402" y="780" width="60" height="23"/><rect class="rt" x="3462" y="780" width="59" height="23"/><text><tspan x="3461.5" y="760.5">response to</tspan><tspan x="3461.5" y="773.5">lipopolysaccharide</tspan><tspan x="3432" y="796">Rat</tspan><tspan x="3491.5" y="796">Il10ra</tspan></text></g>
<g id="n97" class="n"><rect x="4057" y="104" width="95" height="36"/><text><tspan x="4104.5" y="120">developmental</tspan><tspan x="4104.5" y="133">process</tspan></text></g>
<g id="n98" class="n"><rect x="4050" y="472" width="62" height="22"/><text><tspan x="4081" y="487.5">transport</tspan></text></g>
<g id="n99" class="n"><rect x="4022" y="557" width="117" height="36"/><text><tspan x="4080.5" y="573">organic substance</tspan><tspan x="4080.5" y="586">transport</tspan></text></g>
<g id="n100" class="n"><rect x="4184" y="557" width="120" height="36"/><text><tspan x="4244" y="573">nitrogen compound</tspan><tspan x="4244" y="586">transport</tspan></text></g>
<g id="n101" class="n"><rect x="4350" y="557" width="109" height="36"/><text><tspan x="4404.5" y="573">vesicle-mediated</tspan><tspan x="4404.5" y="586">transport</tspan></text></g>
<g id="n102" class="n"><rect x="3937" y="653" width="71" height="37"/><text><tspan x="3972.5" y="669.5">import into</tspan><tspan x="3972.5" y="682.5">cell</tspan></text></g>
<g id="n103" class="n"><rect x="4053" y="660" width="104" height="22"/><text><tspan x="4105" y="675.5">protein transport</tspan></text></g>
<g id="n104" class="n"><rect x="4283" y="660" width="81" height="22"/><text><tspan x="4323.5" y="675.5">endocytosis</tspan></text></g>
<g id="n105" class="n"><rect x="3975" y="745" width="125" height="35"/><rect class="hu" x="3975" y="780" width="63" height="23"/><rect class="hu" x="4038" y="780" width="62" height="23"/><text><tspan x="4037.5" y="760.5">ubiquitin-dependent</tspan><tspan x="4037.5" y="773.5">endocytosis</tspan><tspan x="4006.5" y="796">Human</tspan><tspan x="4069" y="796">IL10RA</tspan></text></g>
<g id="n106" class="n"><rect x="4379" y="288" width="142" height="36"/><text><tspan x="4450" y="304">multicellular</tspan><tspan x="4450" y="317">organism development</tspan></text></g>
<g id="n107" class="n"><rect x="4505" y="202" width="128" height="37"/><text><tspan x="4569" y="218.5">anatomical structure</tspan><tspan x="4569" y="231.5">development</tspan></text></g>
<g id="n108" class="n"><rect x="4450" y="380" width="131" height="22"/><text><tspan x="4515.5" y="395.5">system development</tspan></text></g>
<g id="n109" class="n"><rect x="4464" y="465" width="103" height="36"/><text><tspan x="4515.5" y="481">sensory system</tspan><tspan x="4515.5" y="494">development</tspan></text></g>
<g id="n110" class="n"><rect x="4612" y="472" width="123" height="22"/><text><tspan x="4673.5" y="487.5">tissue development</tspan></text></g>
<g id="n111" class="n"><rect x="4504" y="557" width="131" height="36"/><text><tspan x="4569.5" y="573">lateral line</tspan><tspan x="4569.5" y="586">system development</tspan></text></g>
<g id="n112" class="n"><rect x="4740" y="557" width="84" height="36"/><text><tspan x="4782" y="573">animal organ</tspan><tspan x="4782" y="586">development</tspan></text></g>
<g id="n113" class="n"><rect x="4606" y="653" width="85" height="37"/><text><tspan x="4648.5" y="669.5">lateral line</tspan><tspan x="4648.5" y="682.5">development</tspan></text></g>
<g id="n114" class="n"><rect x="4736" y="653" width="92" height="37"/><text><tspan x="4782" y="669.5">sensory organ</tspan><tspan x="4782" y="682.5">development</tspan></text></g>
<g id="n115" class="n"><rect x="4640" y="752" width="151" height="23"/><rect class="zf" x="4640" y="775" width="76" height="21"/><rect class="zf" x="4716" y="775" width="75" height="21"/><text><tspan x="4715.5" y="768">neuromast development</tspan><tspan x="4678" y="790">Zfish</tspan><tspan x="4753.5" y="790">ifnlr1</tspan></text></g>
</svg>
